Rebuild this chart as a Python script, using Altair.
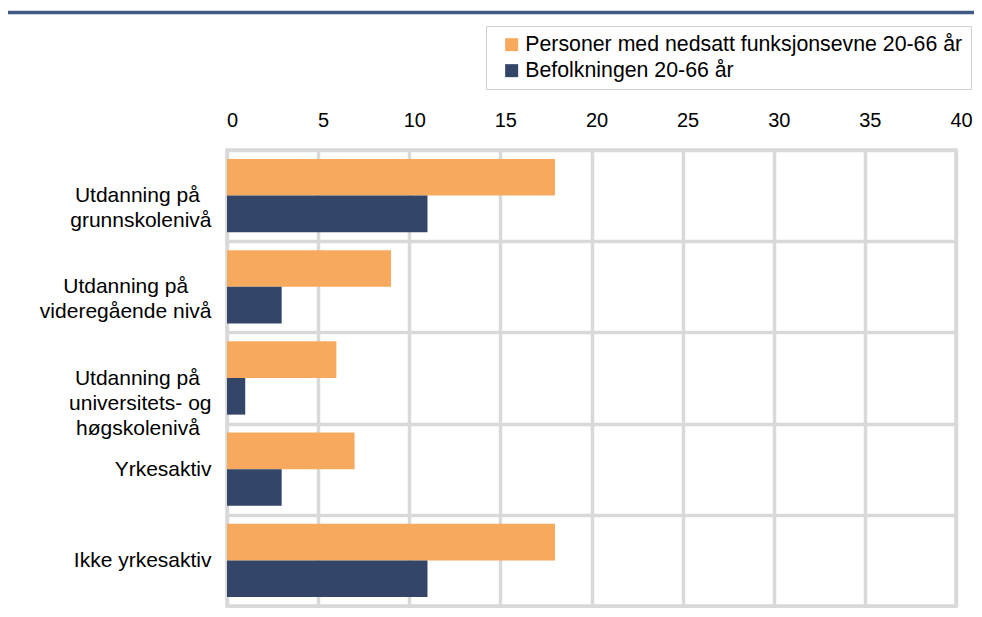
import altair as alt
import pandas as pd

NB = "\u00a0"
ZW = "\u200b"  # keeps the padding spaces from being trimmed

categories = [
    "Utdanning på" + NB * 2 + ZW + "\ngrunnskolenivå",
    "Utdanning på" + NB * 4 + ZW + "\nvideregående nivå",
    "Utdanning på" + NB * 2 + ZW + "\nuniversitets- og\nhøgskolenivå" + NB * 2 + ZW,
    "Yrkesaktiv",
    "Ikke yrkesaktiv",
]
series = ["Personer med nedsatt funksjonsevne 20-66 år", "Befolkningen 20-66 år"]
disabled = [18, 9, 6, 7, 18]
population = [11, 3, 1, 3, 11]
x_ticks = [0, 5, 10, 15, 20, 25, 30, 35, 40]

rows = []
for c, a, b in zip(categories, disabled, population):
    rows.append({"cat": c, "series": series[0], "value": a})
    rows.append({"cat": c, "series": series[1], "value": b})
df = pd.DataFrame(rows)

ORANGE = "#F7AA5E"
NAVY = "#344668"
GRID = "#d9d9d9"
FONT = "Liberation Sans"

PL, PT, PB = 219, 142, 2
W, H = 729, 456
PR = 966 - PL - W

bars = alt.Chart(df).mark_bar(strokeWidth=0).encode(
    x=alt.X(
        "value:Q",
        scale=alt.Scale(domain=[0, 40], nice=False),
        axis=alt.Axis(
            orient="top",
            values=x_ticks,
            title=None,
            tickSize=0,
            domain=False,
            labelFontSize=20,
            labelFont=FONT,
            labelColor="#000000",
            labelPadding=20,
            labelOffset=5,
            labelFlush=False,
            labelBound=False,
            grid=True,
            gridColor=GRID,
            gridWidth=3.5,
        ),
    ),
    y=alt.Y(
        "cat:N",
        sort=categories,
        scale=alt.Scale(paddingInner=0, paddingOuter=0),
        axis=alt.Axis(
            title=None,
            tickSize=0,
            domain=False,
            labelExpr="split(datum.label, '\\n')",
            labelFontSize=21,
            labelFont=FONT,
            labelColor="#000000",
            labelAlign="right",
            labelBaseline="middle",
            labelLineHeight=25,
            labelPadding=16,
            labelLimit=400,
            grid=True,
            gridColor=GRID,
            gridWidth=3.5,
            tickBand="extent",
        ),
    ),
    yOffset=alt.YOffset(
        "series:N",
        sort=series,
        scale=alt.Scale(paddingInner=0, paddingOuter=0.245),
    ),
    color=alt.Color(
        "series:N",
        scale=alt.Scale(domain=series, range=[ORANGE, NAVY]),
        title=None,
        legend=alt.Legend(
            orient="none",
            legendX=259,
            legendY=-124,
            direction="vertical",
            symbolType="square",
            symbolSize=169,
            symbolStrokeWidth=0,
            symbolOpacity=1,
            symbolOffset=7,
            labelOffset=3,
            labelFontSize=21.3,
            labelFont=FONT,
            labelColor="#000000",
            labelLimit=600,
            rowPadding=4,
            padding=8,
            strokeColor="#cfcfcf",
            fillColor="#ffffff",
        ),
    ),
)

top_rule = alt.Chart(pd.DataFrame({"a": [0]})).mark_rule(
    color="#3e5a85", strokeWidth=3.5
).encode(
    x=alt.value(-PL),
    x2=alt.value(W + PR),
    y=alt.value(-137.5),
)

chart = alt.layer(bars, top_rule).properties(
    width=W,
    height=H,
    autosize=alt.AutoSizeParams(type="none"),
    padding={"left": PL, "top": PT, "right": PR, "bottom": PB},
    background="#ffffff",
).configure_view(
    stroke=GRID,
    strokeWidth=3.5,
)

chart.save("out.html", embed_options={"renderer": "svg", "actions": False})
